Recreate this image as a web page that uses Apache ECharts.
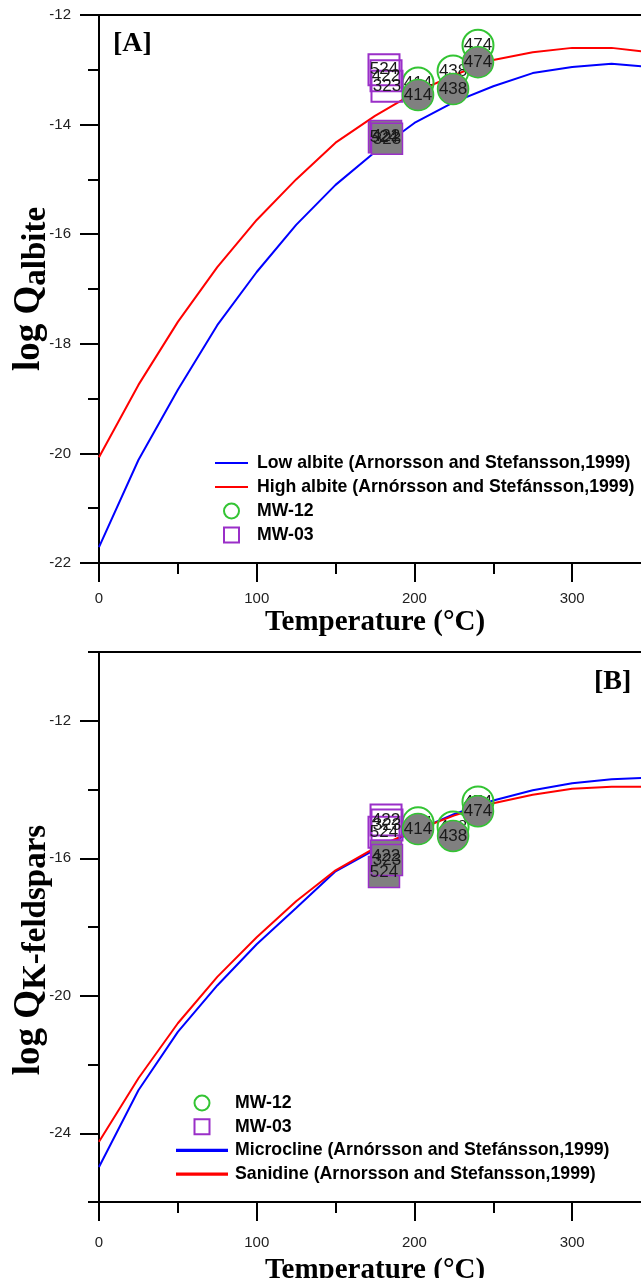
<!DOCTYPE html>
<html>
<head>
<meta charset="utf-8">
<script src="https://cdn.jsdelivr.net/npm/echarts@6/dist/echarts.min.js"></script>
<style>
html,body{margin:0;padding:0;background:#fff;}
#chart{width:641px;height:1278px;}
</style>
</head>
<body>
<div id="chart"></div>
<script>
// ---- data ----
const temps = [0, 25, 50, 75, 100, 125, 150, 175, 200, 225, 250, 275, 300, 325, 350];
const lowAlbite  = [-21.71, -20.12, -18.84, -17.66, -16.69, -15.83, -15.10, -14.50, -13.97, -13.59, -13.30, -13.06, -12.95, -12.89, -12.95];
const highAlbite = [-20.07, -18.75, -17.60, -16.60, -15.74, -15.00, -14.33, -13.84, -13.42, -13.10, -12.82, -12.68, -12.60, -12.60, -12.68];
const microcline = [-24.98, -22.75, -21.05, -19.70, -18.50, -17.45, -16.38, -15.75, -15.22, -14.72, -14.32, -14.02, -13.82, -13.70, -13.65];
const sanidine   = [-24.25, -22.40, -20.80, -19.45, -18.30, -17.25, -16.35, -15.70, -15.20, -14.76, -14.40, -14.15, -13.98, -13.92, -13.92];

const mw12Labels = ['414', '438', '474'];
const mw12Temp   = [202.3, 224.5, 240.3];
const mw12A_open = [-13.24, -13.02, -12.55];
const mw12A_fill = [-13.46, -13.35, -12.86];
const mw12B_open = [-14.97, -15.09, -14.36];
const mw12B_fill = [-15.15, -15.35, -14.63];

const mw03Labels = ['524', '422', '323'];
const mw03Temp   = [180.7, 182.0, 182.6];
const mw03A_open = [-13.00, -13.11, -13.30];
const mw03A_fill = [-14.23, -14.21, -14.26];
const mw03B_open = [-15.24, -14.89, -15.03];
const mw03B_fill = [-16.40, -15.93, -16.05];

const xTicks = [0, 100, 200, 300];
const yTicksA = [-22, -20, -18, -16, -14, -12];
const yTicksB = [-24, -20, -16, -12];
const yMinorB = [-26, -22, -18, -14, -10];

const NAME_LOW = 'Low albite (Arnorsson and Stefansson,1999)';
const NAME_HIGH = 'High albite (Arnórsson and Stefánsson,1999)';
const NAME_MIC = 'Microcline (Arnórsson and Stefánsson,1999)';
const NAME_SAN = 'Sanidine (Arnorsson and Stefansson,1999)';

// ---- helpers ----
const GREEN = '#33c433';
const PURPLE = '#9a2fc8';
const BLUE = '#0000ff';
const RED = '#ff0000';
const zip = (xs, ys) => xs.map((x, i) => [x, ys[i]]);
const pts = (xs, ys, labs) => xs.map((x, i) => [x, ys[i], labs[i]]);
const labelStyle = {show: true, position: 'inside', formatter: p => p.value[2], fontSize: 17, color: '#1a1a1a', fontFamily: 'Liberation Sans, Arial, sans-serif'};

function lineSeries(name, data, color, xi, yi) {
  return {type: 'line', name, data: zip(temps, data), xAxisIndex: xi, yAxisIndex: yi,
    symbol: 'none', lineStyle: {color, width: 2}, itemStyle: {color}, z: 2, animation: false};
}
function scatter(name, symbol, data, open, borderColor, xi, yi) {
  return {type: 'scatter', name, symbol, symbolSize: 31, data, xAxisIndex: xi, yAxisIndex: yi,
    itemStyle: {color: open ? 'rgba(0,0,0,0)' : '#808080', borderColor, borderWidth: open ? 2 : 1.5, opacity: 1},
    label: labelStyle, z: open ? 3 : 4, animation: false};
}

const axisFont = {fontSize: 15, color: '#222', fontFamily: 'Liberation Sans, Arial, sans-serif'};
const black = {color: '#000', width: 2};

function xBottom(grid, margin, nameGap) {
  return {type: 'value', gridIndex: grid, position: 'bottom', min: 0, max: 350, interval: 100,
    axisLine: {show: true, onZero: false, lineStyle: black},
    axisTick: {show: true, length: 19, lineStyle: black, customValues: xTicks},
    minorTick: {show: true, splitNumber: 2, length: 11, lineStyle: black},
    axisLabel: Object.assign({margin, customValues: xTicks}, axisFont),
    splitLine: {show: false}, minorSplitLine: {show: false},
    name: 'Temperature (°C)', nameLocation: 'middle', nameGap, nameMoveOverlap: false,
    nameTextStyle: {fontFamily: 'Liberation Serif, serif', fontWeight: 'bold', fontSize: 29, color: '#000'}};
}
function xTop(grid) {
  return {type: 'value', gridIndex: grid, position: 'top', min: 0, max: 350,
    axisLine: {show: true, onZero: false, lineStyle: black}, axisTick: {show: false},
    axisLabel: {show: false}, splitLine: {show: false}};
}
function yNameStyle(padding) {
  return {
    fontFamily: 'Liberation Serif, serif', fontWeight: 'bold', color: '#000', padding,
    rich: {
      a: {fontFamily: 'Liberation Serif, serif', fontWeight: 'bold', fontSize: 37, lineHeight: 42, verticalAlign: 'top', color: '#000'},
      b: {fontFamily: 'Liberation Serif, serif', fontWeight: 'bold', fontSize: 33, lineHeight: 33, verticalAlign: 'bottom', color: '#000'}
    }
  };
}

const lineIcon = 'path://M0,0L33,0L33,2L0,2Z';
const squareIcon = 'path://M0,0L15,0L15,15L0,15Z';
const legendText = {fontFamily: 'Liberation Sans, Arial, sans-serif', fontWeight: 'bold', fontSize: 17.7, lineHeight: 17, color: '#000'};

const option = {
  backgroundColor: '#fff',
  animation: false,
  grid: [
    {left: 99, top: 15, width: 552, height: 548, outerBoundsMode: 'none', containLabel: false},
    {left: 99, top: 652, width: 552, height: 550, outerBoundsMode: 'none', containLabel: false}
  ],
  xAxis: [xBottom(0, 28, 45), xTop(0), xBottom(1, 33, 54), xTop(1)],
  yAxis: [
    {type: 'value', gridIndex: 0, min: -22, max: -12, interval: 2,
      axisLine: {show: true, onZero: false, lineStyle: black},
      axisTick: {show: true, length: 19, lineStyle: black},
      minorTick: {show: true, splitNumber: 2, length: 11, lineStyle: black},
      axisLabel: Object.assign({margin: 28, customValues: yTicksA}, axisFont),
      splitLine: {show: false}, minorSplitLine: {show: false},
      name: '{a|log Q}{b|albite}', nameLocation: 'middle', nameGap: 46, nameMoveOverlap: false,
      nameTextStyle: yNameStyle([0, 0, 0, 0])},
    {type: 'value', gridIndex: 1, min: -26, max: -10, interval: 2,
      axisLine: {show: true, onZero: false, lineStyle: black},
      axisTick: {show: true, length: 19, lineStyle: black, customValues: yTicksB},
      axisLabel: Object.assign({margin: 28, customValues: yTicksB}, axisFont),
      splitLine: {show: false},
      name: '{a|log Q}{b|K-feldspars}', nameLocation: 'middle', nameGap: 46, nameMoveOverlap: false,
      nameTextStyle: yNameStyle([0, 46, 0, 0])},
    {type: 'value', gridIndex: 1, position: 'left', min: -26, max: -10, interval: 2,
      axisLine: {show: false},
      axisTick: {show: true, length: 11, lineStyle: black, customValues: yMinorB},
      axisLabel: {show: false}, splitLine: {show: false}}
  ],
  legend: [
    {orient: 'vertical', left: 215, top: 454, padding: 0, itemWidth: 33, itemHeight: 15, itemGap: 6,
      textStyle: Object.assign({padding: [0, 0, 0, 4]}, legendText),
      data: [
        {name: NAME_LOW, icon: lineIcon, itemStyle: {color: BLUE, borderWidth: 0}},
        {name: NAME_HIGH, icon: lineIcon, itemStyle: {color: RED, borderWidth: 0}},
        {name: 'MW-12', icon: 'circle', itemStyle: {color: 'rgba(0,0,0,0)', borderColor: GREEN, borderWidth: 2}},
        {name: 'MW-03', icon: squareIcon, itemStyle: {color: 'rgba(0,0,0,0)', borderColor: PURPLE, borderWidth: 2}}
      ]},
    {orient: 'vertical', left: 176, top: 1094, padding: 0, itemWidth: 52, itemHeight: 15, itemGap: 5.7,
      textStyle: Object.assign({padding: [0, 0, 0, 2]}, legendText),
      data: [
        {name: 'MW-12', icon: 'circle', itemStyle: {color: 'rgba(0,0,0,0)', borderColor: GREEN, borderWidth: 2}},
        {name: 'MW-03', icon: squareIcon, itemStyle: {color: 'rgba(0,0,0,0)', borderColor: PURPLE, borderWidth: 2}},
        {name: NAME_MIC, icon: lineIcon, itemStyle: {color: BLUE, borderWidth: 0}},
        {name: NAME_SAN, icon: lineIcon, itemStyle: {color: RED, borderWidth: 0}}
      ]}
  ],
  graphic: [
    {type: 'text', left: 113, top: 30, style: {text: '[A]', font: 'bold 28px "Liberation Serif", serif', fill: '#000'}},
    {type: 'text', left: 594, top: 668, style: {text: '[B]', font: 'bold 28px "Liberation Serif", serif', fill: '#000'}}
  ],
  series: [
    lineSeries(NAME_LOW, lowAlbite, BLUE, 0, 0),
    lineSeries(NAME_HIGH, highAlbite, RED, 0, 0),
    scatter('MW-12', 'circle', pts(mw12Temp, mw12A_open, mw12Labels), true, GREEN, 0, 0),
    scatter('MW-03', 'rect', pts(mw03Temp, mw03A_open, mw03Labels), true, PURPLE, 0, 0),
    scatter('MW-03', 'rect', pts(mw03Temp, mw03A_fill, mw03Labels), false, PURPLE, 0, 0),
    scatter('MW-12', 'circle', pts(mw12Temp, mw12A_fill, mw12Labels), false, GREEN, 0, 0),

    lineSeries(NAME_MIC, microcline, BLUE, 2, 1),
    lineSeries(NAME_SAN, sanidine, RED, 2, 1),
    scatter('MW-12', 'circle', pts(mw12Temp, mw12B_open, mw12Labels), true, GREEN, 2, 1),
    scatter('MW-03', 'rect', pts(mw03Temp, mw03B_open, mw03Labels), true, PURPLE, 2, 1),
    scatter('MW-03', 'rect', pts(mw03Temp, mw03B_fill, mw03Labels), false, PURPLE, 2, 1),
    scatter('MW-12', 'circle', pts(mw12Temp, mw12B_fill, mw12Labels), false, GREEN, 2, 1)
  ]
};

const chart = echarts.init(document.getElementById('chart'), null, {renderer: 'canvas'});
chart.setOption(option);
</script>
</body>
</html>
